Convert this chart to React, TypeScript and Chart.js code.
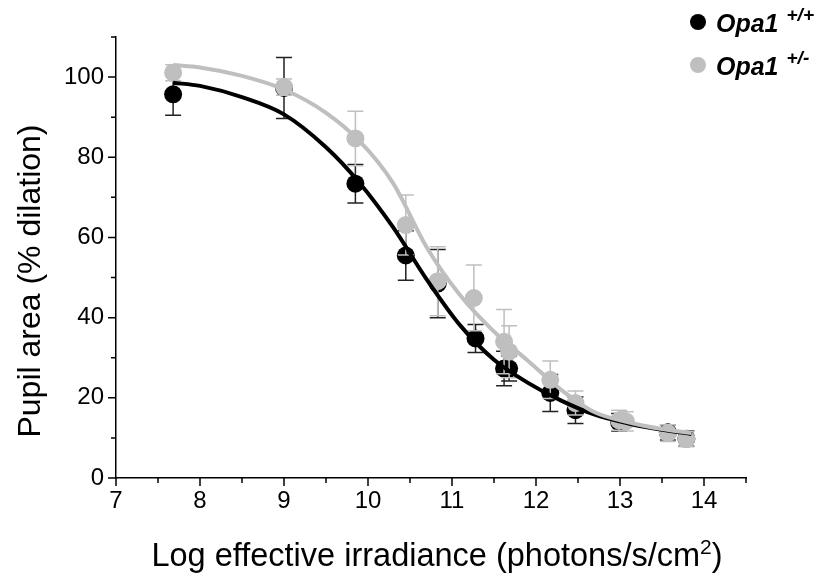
import React, { useEffect, useRef } from "react";
import { Chart, registerables } from "chart.js";

Chart.register(...registerables);

// ---- Data ----
const WT_LABEL = "Opa1";
const WT_SUP = "+/+";
const HET_LABEL = "Opa1";
const HET_SUP = "+/-";

const WT_X = [7.68, 9.0, 9.85, 10.45, 10.83, 11.28, 11.62, 11.68, 12.17, 12.47, 12.99, 13.57, 13.79];
const WT_Y = [95.7, 97.3, 73.4, 55.5, 48.5, 34.8, 27.3, 27.3, 21.2, 16.9, 13.9, 11.4, 9.8];
const WT_ERR = [5.2, 7.6, 4.8, 6.2, 8.5, 3.5, 4.3, 3.1, 4.6, 3.3, 2.2, 1.9, 1.9];

const HET_X = [7.68, 9.0, 9.85, 10.45, 10.83, 11.26, 11.62, 11.68, 12.17, 12.47, 12.99, 13.07, 13.57, 13.79];
const HET_Y = [101.1, 97.5, 84.7, 63.1, 49.1, 44.9, 34.0, 31.5, 24.5, 18.7, 14.4, 14.1, 11.2, 9.7];
const HET_ERR = [2.0, 2.0, 6.8, 7.5, 8.6, 8.2, 8.0, 6.5, 4.7, 3.0, 2.5, 2.4, 2.1, 1.9];

// fitted curves
const FIT_X = [7.68, 8.0, 8.5, 9.0, 9.5, 9.9, 10.3, 10.7, 11.1, 11.5, 11.9, 12.3, 12.7, 13.1, 13.5, 13.85];
const FIT_WT = [98.6, 97.8, 95.0, 90.7, 82.5, 73.6, 62.5, 49.5, 38.0, 29.5, 23.8, 19.3, 15.8, 13.6, 12.0, 11.0];
const FIT_HET = [103.0, 102.4, 100.3, 96.9, 91.1, 84.0, 73.5, 57.5, 45.5, 36.5, 29.3, 22.0, 16.4, 13.9, 12.2, 11.2];

const X_MIN = 7;
const X_MAX = 14.5;
const X_STEP = 0.5;
const Y_MIN = 0;
const Y_MAX = 110;
const Y_STEP = 10;

const X_TITLE_MAIN = "Log effective irradiance (photons/s/cm";
const X_TITLE_SUP = "2";
const X_TITLE_END = ")";
const Y_TITLE = "Pupil area (% dilation)";

const BLACK = "#000000";
const GRAY = "#bfbfbf";

const FONT = '"Liberation Sans", Arial, sans-serif';

const toPts = (xs: number[], ys: number[]) => xs.map((x, i) => ({ x, y: ys[i] }));

const errorBarPlugin = {
  id: "errorBars",
  beforeDatasetDraw(chart: any, args: any) {
    const ds = chart.data.datasets[args.index];
    if (!ds.errors) return;
    const yScale = chart.scales.y;
    const ctx = chart.ctx;
    ctx.save();
    ctx.strokeStyle = ds.errorColor;
    ctx.lineWidth = 1.5;
    args.meta.data.forEach((pt: any, i: number) => {
      const v = ds.data[i].y;
      const e = ds.errors[i];
      const top = yScale.getPixelForValue(v + e);
      const bot = yScale.getPixelForValue(v - e);
      const px = pt.x;
      ctx.beginPath();
      ctx.moveTo(px, top);
      ctx.lineTo(px, bot);
      ctx.moveTo(px - 8, top);
      ctx.lineTo(px + 8, top);
      ctx.moveTo(px - 8, bot);
      ctx.lineTo(px + 8, bot);
      ctx.stroke();
    });
    ctx.restore();
  },
};

const tickPlugin = {
  id: "axisTicks",
  afterDraw(chart: any) {
    const { ctx, chartArea, scales } = chart;
    const xs = scales.x;
    const ys = scales.y;
    ctx.save();
    ctx.strokeStyle = "#000";
    ctx.lineWidth = 1.5;
    ctx.beginPath();
    xs.ticks.forEach((t: any) => {
      const px = xs.getPixelForValue(t.value);
      const major = Math.abs(t.value - Math.round(t.value)) < 1e-6;
      ctx.moveTo(px, chartArea.bottom);
      ctx.lineTo(px, chartArea.bottom + (major ? 8 : 5));
    });
    ys.ticks.forEach((t: any) => {
      const py = ys.getPixelForValue(t.value);
      const major = Math.round(t.value) % 20 === 0;
      ctx.moveTo(chartArea.left, py);
      ctx.lineTo(chartArea.left - (major ? 8 : 5), py);
    });
    ctx.stroke();

    // axis titles
    ctx.fillStyle = "#000";
    ctx.textBaseline = "alphabetic";
    ctx.textAlign = "left";
    const mainFont = `32.5px ${FONT}`;
    const supFont = `21px ${FONT}`;
    ctx.font = mainFont;
    const w1 = ctx.measureText(X_TITLE_MAIN).width;
    const w3 = ctx.measureText(X_TITLE_END).width;
    ctx.font = supFont;
    const w2 = ctx.measureText(X_TITLE_SUP).width;
    const total = w1 + w2 + w3;
    const cx = (chartArea.left + chartArea.right) / 2 + 6;
    const base = 566;
    const x0 = cx - total / 2;
    ctx.font = mainFont;
    ctx.fillText(X_TITLE_MAIN, x0, base);
    ctx.font = supFont;
    ctx.fillText(X_TITLE_SUP, x0 + w1, base - 12);
    ctx.font = mainFont;
    ctx.fillText(X_TITLE_END, x0 + w1 + w2, base);

    ctx.save();
    ctx.translate(40, 281);
    ctx.rotate(-Math.PI / 2);
    ctx.textAlign = "center";
    ctx.font = `32px ${FONT}`;
    ctx.fillText(Y_TITLE, 0, 0);
    ctx.restore();

    ctx.restore();
  },
};

const legendPlugin = {
  id: "customLegend",
  afterDraw(chart: any) {
    const ctx = chart.ctx;
    const items = [
      { color: BLACK, name: WT_LABEL, sup: WT_SUP },
      { color: GRAY, name: HET_LABEL, sup: HET_SUP },
    ];
    ctx.save();
    items.forEach((item, i) => {
      const cy = 22 + i * 43;
      ctx.beginPath();
      ctx.arc(698, cy, 8, 0, Math.PI * 2);
      ctx.fillStyle = item.color;
      ctx.fill();
      ctx.fillStyle = "#000";
      ctx.textBaseline = "alphabetic";
      ctx.textAlign = "left";
      ctx.font = `italic bold 25px ${FONT}`;
      ctx.fillText(item.name, 716, cy + 10);
      const w = ctx.measureText(item.name).width;
      ctx.font = `italic bold 19px ${FONT}`;
      ctx.fillText(item.sup, 716 + w + 8, cy - 1);
    });
    ctx.restore();
  },
};

export default function App() {
  const ref = useRef<HTMLCanvasElement | null>(null);

  useEffect(() => {
    if (!ref.current) return;
    const chart = new Chart(ref.current, {
      type: "scatter",
      data: {
        datasets: [
          {
            label: "fit het",
            data: toPts(FIT_X, FIT_HET),
            showLine: true,
            pointRadius: 0,
            borderColor: GRAY,
            borderWidth: 4,
            cubicInterpolationMode: "monotone",
            order: 0,
          } as any,
          {
            label: "fit wt",
            data: toPts(FIT_X, FIT_WT),
            showLine: true,
            pointRadius: 0,
            borderColor: BLACK,
            borderWidth: 4,
            cubicInterpolationMode: "monotone",
            order: 1,
          } as any,
          {
            label: HET_LABEL + " " + HET_SUP,
            data: toPts(HET_X, HET_Y),
            errors: HET_ERR,
            errorColor: GRAY,
            pointRadius: 9,
            pointBackgroundColor: GRAY,
            pointBorderColor: GRAY,
            pointBorderWidth: 0,
            order: 2,
          } as any,
          {
            label: WT_LABEL + " " + WT_SUP,
            data: toPts(WT_X, WT_Y),
            errors: WT_ERR,
            errorColor: "#222",
            pointRadius: 9,
            pointBackgroundColor: BLACK,
            pointBorderColor: BLACK,
            pointBorderWidth: 0,
            order: 3,
          } as any,
        ],
      },
      options: {
        responsive: false,
        animation: false,
        layout: { padding: { top: 37, right: 85, left: 0, bottom: 0 } },
        plugins: {
          legend: { display: false },
          tooltip: { enabled: false },
        },
        scales: {
          x: {
            type: "linear",
            min: X_MIN,
            max: X_MAX,
            grid: { display: false, drawTicks: true, tickLength: 8 },
            border: { display: true, color: "#000", width: 1.5 },
            ticks: {
              stepSize: X_STEP,
              padding: 1,
              color: "#000",
              font: { family: FONT, size: 24 },
              maxRotation: 0,
              autoSkip: false,
              callback: (v: any) => (Math.abs(v - Math.round(v)) < 1e-6 ? String(Math.round(v)) : ""),
            },
            afterFit: (s: any) => {
              s.height = 103;
            },
          },
          y: {
            type: "linear",
            min: Y_MIN,
            max: Y_MAX,
            grid: { display: false, drawTicks: true, tickLength: 8 },
            border: { display: true, color: "#000", width: 1.5 },
            ticks: {
              stepSize: Y_STEP,
              padding: 4,
              color: "#000",
              font: { family: FONT, size: 24 },
              autoSkip: false,
              callback: (v: any) => (Math.round(v) % 20 === 0 ? String(Math.round(v)) : ""),
            },
            afterFit: (s: any) => {
              s.width = 116;
            },
          },
        },
      },
      plugins: [errorBarPlugin, tickPlugin, legendPlugin],
    });
    return () => chart.destroy();
  }, []);

  return (
    <div style={{ position: "absolute", left: 0, top: 0, width: 831, height: 581, background: "#fff" }}>
      <canvas ref={ref} width={831} height={581} style={{ width: 831, height: 581, display: "block" }} />
    </div>
  );
}
